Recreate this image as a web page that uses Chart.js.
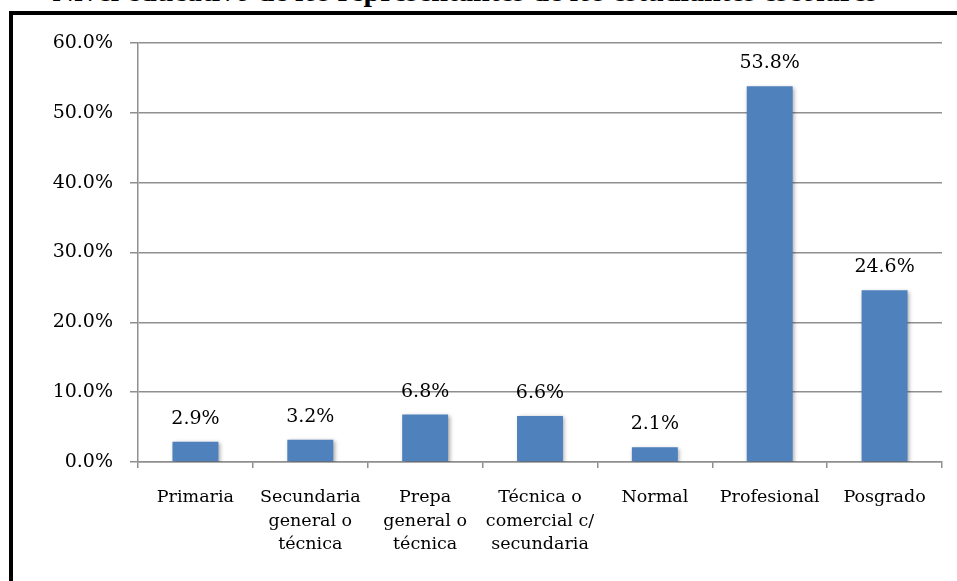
<!DOCTYPE html>
<html>
<head>
<meta charset="utf-8">
<script src="https://cdn.jsdelivr.net/npm/chart.js@4.4.0/dist/chart.umd.min.js"></script>
<style>
  html, body { margin: 0; padding: 0; background: #fff; overflow: hidden; }
  #page { position: relative; width: 957px; height: 581px; overflow: hidden; }
  #title { position: absolute; left: 0; top: -24px; width: 930px; text-align: center;
           font: bold 30px "Liberation Serif", serif; line-height: 30px; color: #000; white-space: nowrap; }
  #frame { position: absolute; left: 9px; top: 11px; width: 1000px; height: 700px;
           border-left: 4px solid #000; border-top: 4px solid #000; box-sizing: border-box; background: #fff; }
  #wrap { position: absolute; left: 0; top: 0; width: 957px; height: 581px; }
</style>
</head>
<body>
<div id="page">
  <div id="title">Nivel educativo de los representantes de los estudiantes escolares</div>
  <div id="frame"></div>
  <div id="wrap"><canvas id="c" width="957" height="581"></canvas></div>
</div>
<script>
const categories = [
  "Primaria",
  ["Secundaria", "general o", "técnica"],
  ["Prepa", "general o", "técnica"],
  ["Técnica o", "comercial c/", "secundaria"],
  "Normal",
  "Profesional",
  "Posgrado"
];
const values = [2.9, 3.2, 6.8, 6.6, 2.1, 53.8, 24.6];
const yTicks = [0, 10, 20, 30, 40, 50, 60];

const SERIF = '"DejaVu Serif", serif';

const shadowPlugin = {
  id: 'barShadow',
  beforeDatasetsDraw(chart) {
    const ctx = chart.ctx;
    ctx.save();
    ctx.shadowColor = 'rgba(0,0,0,0.35)';
    ctx.shadowBlur = 4;
    ctx.shadowOffsetX = 1.5;
    ctx.shadowOffsetY = 1.5;
  },
  afterDatasetsDraw(chart) {
    chart.ctx.restore();
  }
};

const labelPlugin = {
  id: 'valueLabels',
  afterDraw(chart) {
    const ctx = chart.ctx;
    const meta = chart.getDatasetMeta(0);
    ctx.save();
    ctx.font = '19px ' + SERIF;
    ctx.fillStyle = '#000';
    ctx.textAlign = 'center';
    ctx.textBaseline = 'alphabetic';
    meta.data.forEach((bar, i) => {
      ctx.fillText(values[i].toFixed(1) + '%', bar.x, bar.y - 18);
    });
    ctx.restore();
  }
};

new Chart(document.getElementById('c'), {
  type: 'bar',
  data: {
    labels: categories,
    datasets: [{
      data: values,
      backgroundColor: '#4F81BD',
      borderWidth: 0,
      barPercentage: 0.4,
      categoryPercentage: 1.0
    }]
  },
  options: {
    responsive: false,
    animation: false,
    devicePixelRatio: 1,
    layout: { padding: { left: 0, top: 43, right: 15, bottom: 0 } },
    plugins: {
      legend: { display: false },
      tooltip: { enabled: false },
      title: { display: false }
    },
    scales: {
      x: {
        grid: {
          display: true,
          drawOnChartArea: false,
          drawTicks: true,
          tickLength: 6,
          color: '#8f8f8f',
          lineWidth: 1.5,
          offset: true
        },
        border: { display: true, color: '#8f8f8f', width: 1.5 },
        ticks: {
          color: '#000',
          font: { family: SERIF, size: 17.5, lineHeight: 1.37 },
          padding: 17,
          maxRotation: 0,
          autoSkip: false
        },
        afterFit(s) { s.height = 119; }
      },
      y: {
        min: yTicks[0],
        max: yTicks[yTicks.length - 1],
        afterBuildTicks(s) { s.ticks = yTicks.map(v => ({ value: v })); },
        grid: {
          color: '#8f8f8f',
          lineWidth: 1.5,
          drawTicks: true,
          tickLength: 8
        },
        border: { display: true, color: '#8f8f8f', width: 1.5 },
        ticks: {
          color: '#000',
          font: { family: SERIF, size: 19 },
          padding: 17,
          callback: v => v.toFixed(1) + '%'
        },
        afterFit(s) { s.width = 138; }
      }
    }
  },
  plugins: [shadowPlugin, labelPlugin]
});
</script>
</body>
</html>
